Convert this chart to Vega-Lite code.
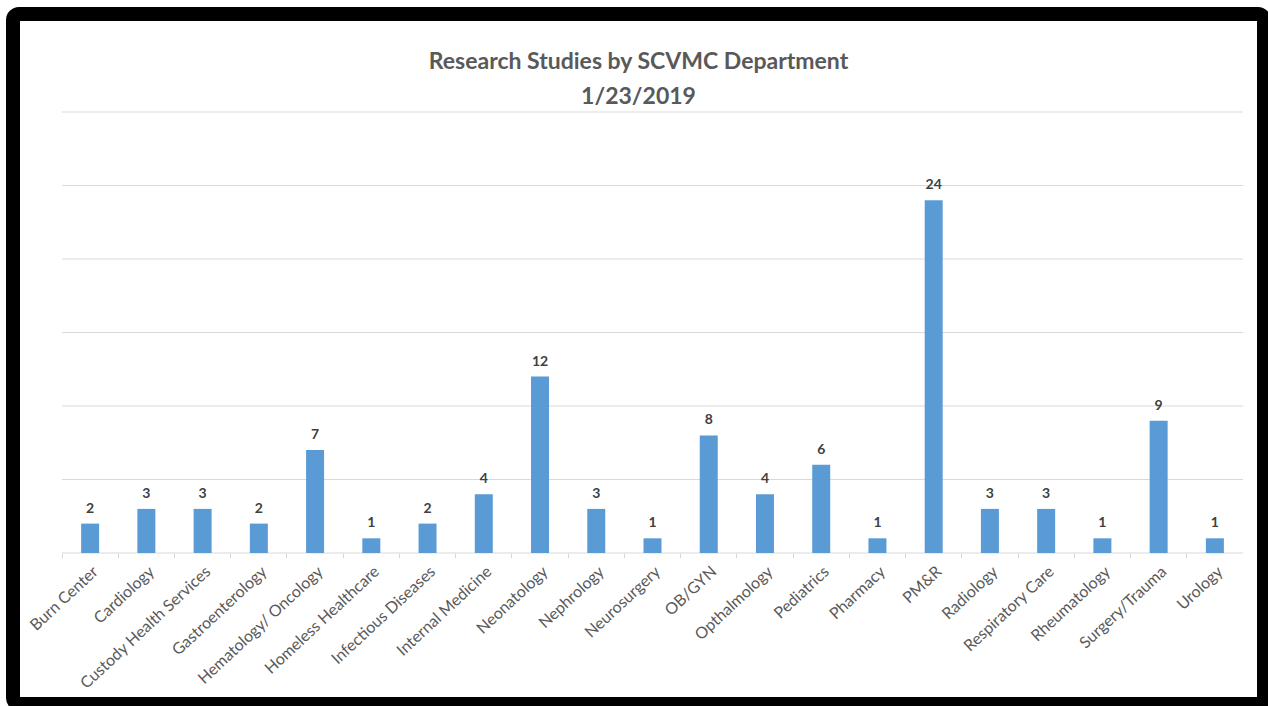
{
  "$schema": "https://vega.github.io/schema/vega-lite/v6.json",
  "autosize": {"type": "none"},
  "padding": {"left": 13, "top": 14, "right": 4, "bottom": 2},
  "width": 1251,
  "height": 690,
  "background": "white",
  "config": {
    "view": {"fill": "white", "stroke": "black", "strokeWidth": 14, "cornerRadius": 6},
    "font": "Lato"
  },
  "title": {
    "text": ["Research Studies by SCVMC Department", "1/23/2019"],
    "fontSize": 23,
    "fontWeight": "bold",
    "color": "#595959",
    "lineHeight": 35,
    "anchor": "middle",
    "offset": -95
  },
  "datasets": {
    "studies": [
      {"department": "Burn Center", "studies": 2},
      {"department": "Cardiology", "studies": 3},
      {"department": "Custody Health Services", "studies": 3},
      {"department": "Gastroenterology", "studies": 2},
      {"department": "Hematology/ Oncology", "studies": 7},
      {"department": "Homeless Healthcare", "studies": 1},
      {"department": "Infectious Diseases", "studies": 2},
      {"department": "Internal Medicine", "studies": 4},
      {"department": "Neonatology", "studies": 12},
      {"department": "Nephrology", "studies": 3},
      {"department": "Neurosurgery", "studies": 1},
      {"department": "OB/GYN", "studies": 8},
      {"department": "Opthalmology", "studies": 4},
      {"department": "Pediatrics", "studies": 6},
      {"department": "Pharmacy", "studies": 1},
      {"department": "PM&R", "studies": 24},
      {"department": "Radiology", "studies": 3},
      {"department": "Respiratory Care", "studies": 3},
      {"department": "Rheumatology", "studies": 1},
      {"department": "Surgery/Trauma", "studies": 9},
      {"department": "Urology", "studies": 1}
    ],
    "gridlines": [
      {"level": 0}, {"level": 5}, {"level": 10}, {"level": 15},
      {"level": 20}, {"level": 25}, {"level": 30}
    ]
  },
  "resolve": {"axis": {"x": "independent"}},
  "layer": [
    {
      "data": {"name": "gridlines"},
      "mark": {"type": "rule", "color": "#d9d9d9", "strokeWidth": 1},
      "encoding": {
        "x": {
          "datum": "Burn Center",
          "type": "nominal",
          "bandPosition": 0,
          "scale": {
            "domain": ["Burn Center", "Cardiology", "Custody Health Services", "Gastroenterology", "Hematology/ Oncology", "Homeless Healthcare", "Infectious Diseases", "Internal Medicine", "Neonatology", "Nephrology", "Neurosurgery", "OB/GYN", "Opthalmology", "Pediatrics", "Pharmacy", "PM&R", "Radiology", "Respiratory Care", "Rheumatology", "Surgery/Trauma", "Urology"],
            "paddingInner": 0, "paddingOuter": 0.6225, "align": 0.7
          },
          "axis": {
            "orient": "bottom",
            "offset": -151,
            "title": null,
            "labels": false,
            "domain": false,
            "ticks": true,
            "tickSize": 5,
            "tickColor": "#d9d9d9",
            "bandPosition": 0,
            "grid": false
          }
        },
        "x2": {"datum": "Urology", "bandPosition": 1},
        "y": {
          "field": "level",
          "type": "quantitative",
          "scale": {"domain": [-10.272, 36.667], "nice": false, "zero": false},
          "axis": null
        }
      }
    },
    {
      "data": {"name": "studies"},
      "mark": {"type": "bar", "color": "#5B9BD5", "width": {"band": 0.32}},
      "encoding": {
        "x": {
          "field": "department",
          "type": "nominal",
          "sort": null,
          "axis": {
            "orient": "bottom",
            "offset": -151,
            "title": null,
            "labelAngle": -43,
            "labelFontSize": 16,
            "labelColor": "#595959",
            "labelPadding": 10,
            "ticks": false,
            "domain": false,
            "grid": false
          }
        },
        "y": {"field": "studies", "type": "quantitative"}
      }
    },
    {
      "data": {"name": "studies"},
      "mark": {"type": "text", "baseline": "bottom", "dy": -8, "fontSize": 14, "fontWeight": "bold", "color": "#404040"},
      "encoding": {
        "x": {"field": "department", "type": "nominal", "sort": null, "axis": null},
        "y": {"field": "studies", "type": "quantitative"},
        "text": {"field": "studies", "type": "quantitative"}
      }
    }
  ]
}
